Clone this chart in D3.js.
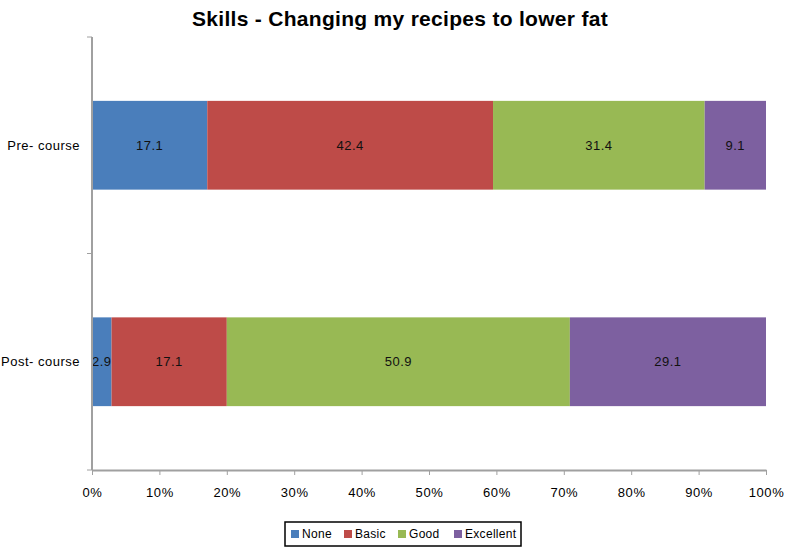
<!DOCTYPE html>
<html>
<head>
<meta charset="utf-8">
<script src="https://cdn.jsdelivr.net/npm/d3@7"></script>
<style>
  body { margin: 0; background: #fff; }
  text { font-family: "Liberation Sans", Arial, sans-serif; }
</style>
</head>
<body>
<script>
/* Chart data */
var groups = ["Pre-course", "Post-course"];
var levels = ["None", "Basic", "Good", "Excellent"];
var none = [17.1, 2.9];
var basic = [42.4, 17.1];
var good = [31.4, 50.9];
var excellent = [9.1, 29.1];
var xTicks = [0, 10, 20, 30, 40, 50, 60, 70, 80, 90, 100];

var colours = ["#4a7ebb", "#be4b48", "#98b954", "#7d60a0"];

var width = 788, height = 551;
var margin = {top: 37, right: 22, bottom: 81, left: 92};

var svg = d3.select("body").append("svg")
  .attr("width", width)
  .attr("height", height);

/* Build rows for stacking */
var rows = groups.map(function(g, i) {
  return {group: g, None: none[i], Basic: basic[i], Good: good[i], Excellent: excellent[i]};
});
var series = d3.stack().keys(levels)(rows);

var x = d3.scaleLinear()
  .domain([0, 100])
  .range([margin.left, width - margin.right]);

var y = d3.scaleBand()
  .domain(groups)
  .range([margin.top, height - margin.bottom])
  .paddingInner(0.59)
  .paddingOuter(0.295);

var band = d3.scaleBand()
  .domain(groups)
  .range([margin.top, height - margin.bottom]);

/* Title */
svg.append("text")
  .attr("x", 400)
  .attr("y", 26)
  .attr("text-anchor", "middle")
  .style("font-size", "21px")
  .style("font-weight", "bold")
  .style("letter-spacing", "0.3px")
  .text("Skills - Changing my recipes to lower fat");

/* Bars */
var layer = svg.selectAll(".layer")
  .data(series)
  .enter().append("g")
  .attr("fill", function(d, i) { return colours[i]; });

layer.selectAll("rect")
  .data(function(d) { return d; })
  .enter().append("rect")
  .attr("x", function(d) { return x(d[0]); })
  .attr("width", function(d) { return x(d[1]) - x(d[0]); })
  .attr("y", function(d) { return y(d.data.group); })
  .attr("height", y.bandwidth());

/* Value labels */
layer.selectAll("text")
  .data(function(d) { return d; })
  .enter().append("text")
  .attr("x", function(d) { return (x(d[0]) + x(d[1])) / 2; })
  .attr("y", function(d) { return y(d.data.group) + y.bandwidth() / 2; })
  .attr("dy", "0.35em")
  .attr("text-anchor", "middle")
  .attr("fill", "#111")
  .style("font-size", "13px")
  .style("letter-spacing", "0.5px")
  .text(function(d) { return (d[1] - d[0]).toFixed(1); });

/* X axis */
var axisY = height - margin.bottom;
var xAxis = svg.append("g")
  .attr("transform", "translate(0," + axisY + ")")
  .call(d3.axisBottom(x).tickValues(xTicks).tickSize(5).tickSizeOuter(0)
    .tickFormat(function(d) { return d + "%"; }));
xAxis.select(".domain").attr("stroke", "#a0a0a0").attr("stroke-width", 2);
xAxis.selectAll(".tick line").attr("stroke", "#a0a0a0");
xAxis.selectAll(".tick text")
  .attr("dy", "1.45em")
  .attr("fill", "#000")
  .style("font-size", "13px")
  .style("letter-spacing", "0.6px")
  .style("font-family", "'Liberation Sans', Arial, sans-serif");

/* Y axis */
var yAxisG = svg.append("g")
  .attr("transform", "translate(" + margin.left + ",0)");
yAxisG.append("line")
  .attr("y1", margin.top)
  .attr("y2", axisY)
  .attr("stroke", "#a0a0a0")
  .attr("stroke-width", 2);
var boundaries = groups.map(function(g) { return band(g); }).concat([axisY]);
yAxisG.selectAll(".ytick")
  .data(boundaries)
  .enter().append("line")
  .attr("x1", -5).attr("x2", 0)
  .attr("y1", function(d) { return d; })
  .attr("y2", function(d) { return d; })
  .attr("stroke", "#a0a0a0");
yAxisG.selectAll(".ylabel")
  .data(groups)
  .enter().append("text")
  .attr("x", -12)
  .attr("y", function(d) { return y(d) + y.bandwidth() / 2; })
  .attr("dy", "0.35em")
  .attr("text-anchor", "end")
  .style("font-size", "13px")
  .style("letter-spacing", "0.5px")
  .text(function(d) { return d.replace("-", "- "); });

/* Legend */
var legend = svg.append("g").attr("transform", "translate(285,522)");
legend.append("rect")
  .attr("width", 236).attr("height", 24)
  .attr("fill", "#fff").attr("stroke", "#000").attr("stroke-width", 1.5);
var legX = [6, 59, 113, 169];
var item = legend.selectAll(".item")
  .data(levels)
  .enter().append("g")
  .attr("transform", function(d, i) { return "translate(" + legX[i] + ",0)"; });
item.append("rect")
  .attr("y", 8).attr("width", 8).attr("height", 8)
  .attr("fill", function(d, i) { return colours[i]; });
item.append("text")
  .attr("x", 11).attr("y", 12).attr("dy", "0.35em")
  .style("font-size", "12px")
  .style("letter-spacing", "0.3px")
  .text(function(d) { return d; });
</script>
</body>
</html>
